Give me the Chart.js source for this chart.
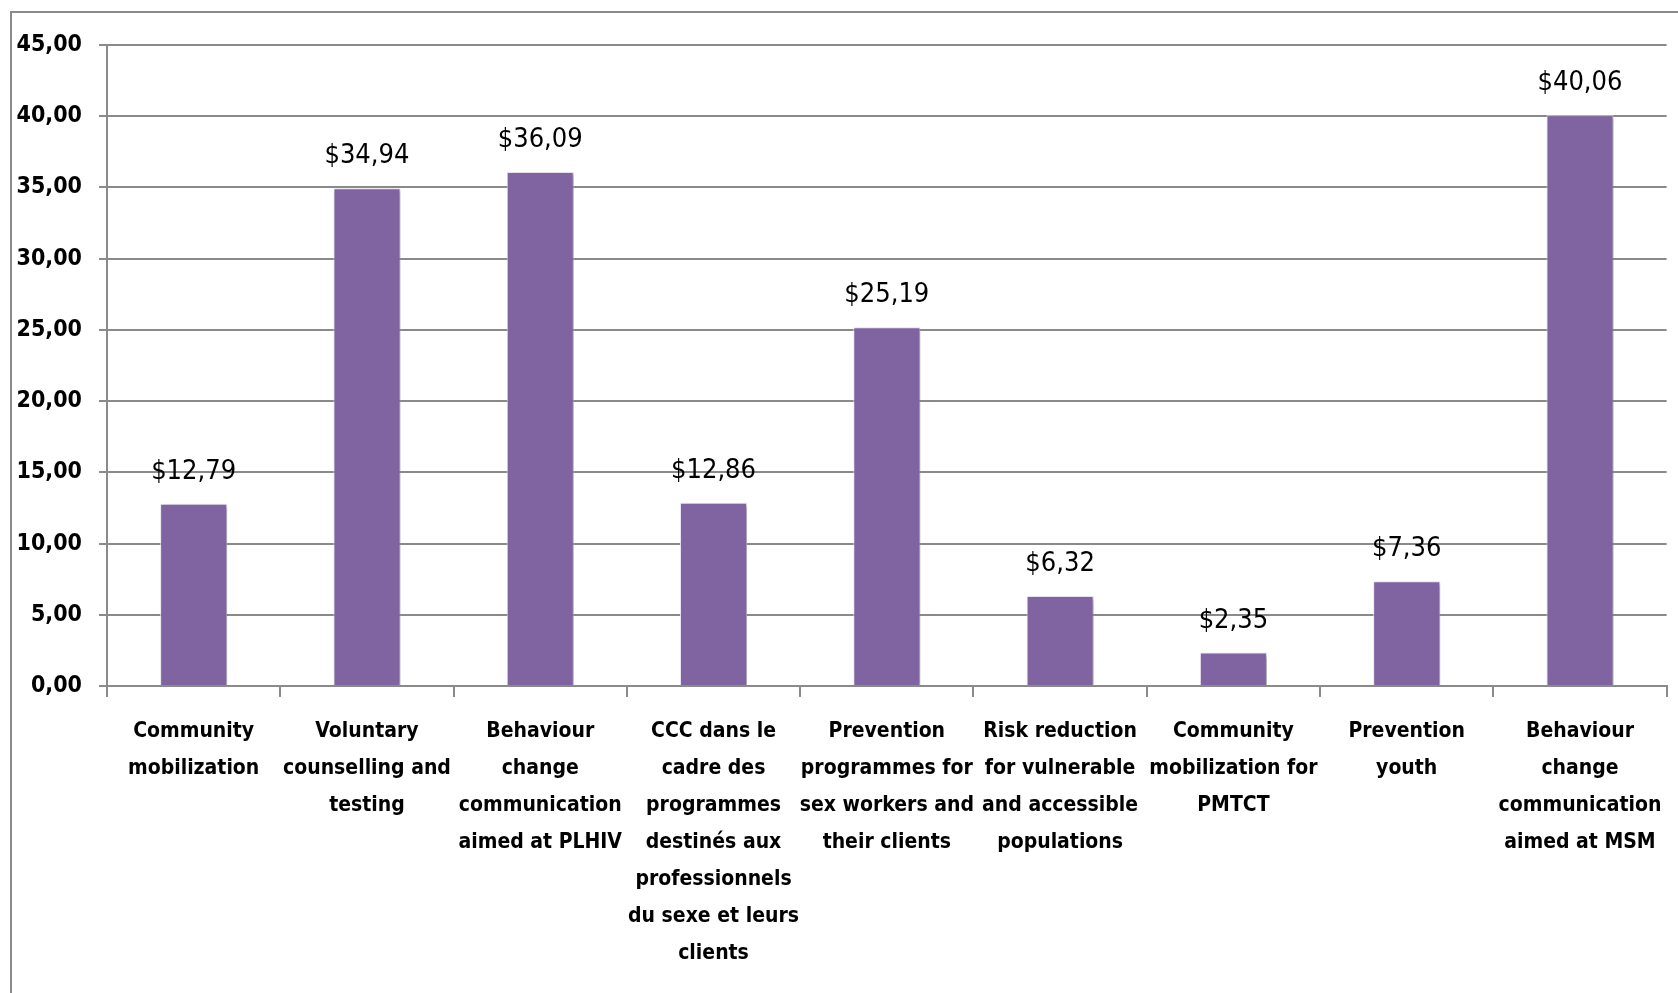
<!DOCTYPE html>
<html lang="en">
<head>
<meta charset="UTF-8">
<title>Cost per beneficiary</title>
<script src="https://cdn.jsdelivr.net/npm/chart.js"></script>
<style>
  body { margin: 0; background: #fff; }
  #wrap { width: 1678px; height: 993px; position: relative; }
</style>
</head>
<body>
<div id="wrap"><canvas id="grafico"></canvas></div>
<script>
  // categories (already wrapped the way the original shows them)
  const categorias = [
    ["Community", "mobilization"],
    ["Voluntary", "counselling and", "testing"],
    ["Behaviour", "change", "communication", "aimed at PLHIV"],
    ["CCC dans le", "cadre des", "programmes", "destinés aux", "professionnels", "du sexe et leurs", "clients"],
    ["Prevention", "programmes for", "sex workers and", "their clients"],
    ["Risk reduction", "for vulnerable", "and accessible", "populations"],
    ["Community", "mobilization for", "PMTCT"],
    ["Prevention", "youth"],
    ["Behaviour", "change", "communication", "aimed at MSM"]
  ]
  const valores = [12.79, 34.94, 36.09, 12.86, 25.19, 6.32, 2.35, 7.36, 40.06]
  const ticksY = ["0,00", "5,00", "10,00", "15,00", "20,00", "25,00", "30,00", "35,00", "40,00", "45,00"]

  const fonte = "'Liberation Sans Narrow', 'DejaVu Sans Condensed', 'Arial Narrow', sans-serif"
  const cinza = "#8a8a8a"

  const fmt = v => "$" + v.toFixed(2).replace(".", ",")

  // outer frame of the chart object + value labels above the bars
  const extras = {
    id: "extras",
    beforeDraw(chart) {
      const c = chart.ctx
      c.save()
      c.strokeStyle = cinza
      c.lineWidth = 2
      c.strokeRect(11, 12, chart.width + 20, chart.height + 20)
      c.restore()
    },
    beforeDatasetsDraw(chart) {
      const c = chart.ctx
      c.save()
      c.shadowColor = "rgba(0,0,0,0.3)"
      c.shadowBlur = 4
      c.shadowOffsetX = 3
      c.shadowOffsetY = 2
    },
    afterDatasetsDraw(chart) {
      const c = chart.ctx
      c.restore()
      c.save()
      c.font = "27px " + fonte
      c.fillStyle = "#000"
      c.textAlign = "center"
      c.textBaseline = "alphabetic"
      chart.getDatasetMeta(0).data.forEach((bar, i) => {
        c.fillText(fmt(valores[i]), bar.x, bar.y - 25)
      })
      c.restore()
    }
  }

  new Chart(document.getElementById("grafico"), {
    type: "bar",
    data: {
      labels: categorias,
      datasets: [{
        data: valores,
        backgroundColor: "#8064a2",
        borderColor: "rgba(235,230,245,0.9)",
        borderWidth: 1,
        barPercentage: 0.387,
        categoryPercentage: 1
      }]
    },
    options: {
      responsive: true,
      maintainAspectRatio: false,
      animation: false,
      layout: { padding: { top: 45, right: 11, left: 0, bottom: 0 } },
      plugins: {
        legend: { display: false },
        tooltip: { enabled: false }
      },
      scales: {
        x: {
          grid: {
            offset: true,
            drawOnChartArea: false,
            drawTicks: true,
            tickLength: 11,
            color: cinza,
            lineWidth: 2
          },
          border: { color: cinza, width: 2 },
          ticks: {
            maxRotation: 0,
            autoSkip: false,
            padding: 16,
            color: "#000",
            font: { family: fonte, size: 21, weight: "bold", lineHeight: 1.76 }
          },
          afterFit(scale) { scale.height = 993 - 686 }
        },
        y: {
          min: 0,
          max: 45,
          ticks: {
            stepSize: 5,
            padding: 17,
            color: "#000",
            font: { family: fonte, size: 23, weight: "bold" },
            callback: (v, i) => ticksY[i]
          },
          grid: {
            color: cinza,
            lineWidth: 2,
            tickLength: 8
          },
          border: { color: cinza, width: 2 },
          afterFit(scale) { scale.width = 107 }
        }
      }
    },
    plugins: [extras]
  })
</script>
</body>
</html>
